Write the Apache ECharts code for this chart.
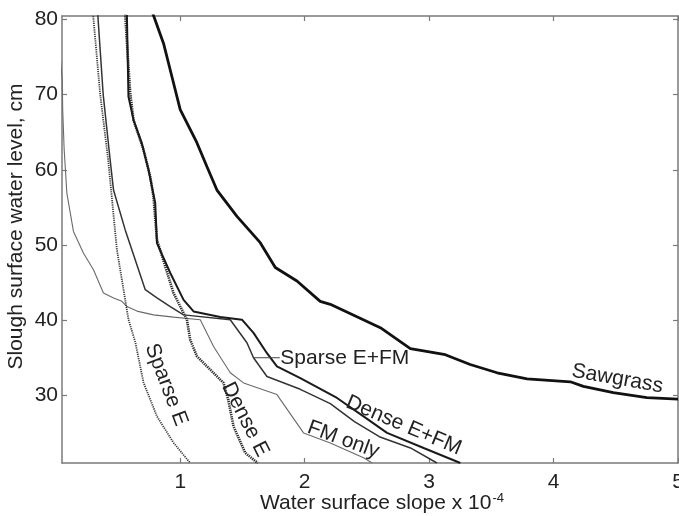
<!DOCTYPE html>
<html>
<head>
<meta charset="utf-8">
<title>Slough water level vs slope</title>
<script src="https://cdn.jsdelivr.net/npm/echarts@6/dist/echarts.min.js"></script>
<style>
    html, body { margin: 0; padding: 0; background: #fff; }
    #chart { width: 679px; height: 516px; }
</style>
</head>
<body>
<div id="chart"></div>
<script>
// tick labels
var xTicks = [1, 2, 3, 4, 5];
var yTicks = [30, 40, 50, 60, 70, 80];

// curves, [slope x 1e-4, water level cm]
var sawgrass = [[0.775, 81], [0.866, 76.8], [0.933, 72.4], [1.0, 68.0], [1.134, 63.6], [1.215, 60.4],
    [1.295, 57.3], [1.456, 53.8], [1.643, 50.3], [1.764, 47.0], [1.938, 45.2], [2.125, 42.5], [2.206, 42.1],
    [2.608, 39.0], [2.849, 36.2], [3.13, 35.4], [3.33, 34.1], [3.546, 33.0], [3.787, 32.2],
    [4.135, 31.8], [4.24, 31.2], [4.48, 30.35], [4.75, 29.7], [5.0, 29.5]];
var sparseE = [[0.295, 81], [0.301, 80.4], [0.357, 70], [0.421, 61.3], [0.491, 49.4], [0.584, 40.1],
    [0.64, 37.0], [0.705, 31.7], [0.813, 27.2], [0.946, 23.7], [1.08, 21.0]];
var sparseEFM = [[0.336, 81], [0.381, 70], [0.437, 61.3], [0.464, 57.3], [0.558, 52.0], [0.719, 44.05],
    [0.813, 42.95], [0.92, 41.8], [1.027, 40.7], [1.402, 40.05], [1.536, 37.0], [1.589, 35.0],
    [1.697, 32.5], [1.965, 30.8], [2.206, 28.9], [2.4, 26.5], [2.6, 24.5], [2.85, 23.0], [3.063, 21.0]];
var denseE = [[0.556, 81], [0.559, 80.4], [0.572, 76.8], [0.598, 70.2], [0.625, 66.6], [0.705, 62.65],
    [0.759, 59.1], [0.785, 56.45], [0.813, 50.7], [0.946, 43.6], [1.054, 40.06], [1.08, 37.4],
    [1.134, 35.2], [1.215, 33.85], [1.348, 31.65], [1.386, 29.4], [1.428, 25.9], [1.522, 22.35], [1.623, 21.0]];
var denseEFM = [[0.571, 81], [0.584, 69.74], [0.625, 66.6], [0.692, 63.5], [0.745, 60.0], [0.799, 55.57],
    [0.813, 50.25], [0.92, 46.27], [1.027, 42.7], [1.107, 41.16], [1.322, 40.42], [1.496, 40.06],
    [1.589, 38.3], [1.697, 35.6], [1.777, 33.85], [1.965, 32.3], [2.26, 29.65], [2.473, 27.2],
    [2.662, 25.0], [2.956, 23.0], [3.251, 21.0]];
var fmOnly = [[0.03, 76], [0.052, 72], [0.0555, 68.0], [0.0675, 62.65], [0.089, 56.9], [0.142, 51.8],
    [0.223, 48.9], [0.303, 46.7], [0.383, 43.6], [0.464, 42.95], [0.531, 42.5], [0.572, 41.8],
    [0.652, 41.2], [0.785, 40.7], [0.946, 40.4], [1.161, 40.06], [1.268, 36.5], [1.402, 33.0],
    [1.509, 31.65], [1.777, 30.1], [1.991, 25.0], [2.206, 23.67], [2.473, 21.7], [2.543, 21.0]];

var FONT = '"Liberation Sans", Arial, sans-serif';
var axisColor = '#7a7a7a';
var textColor = '#222';

var chart = echarts.init(document.getElementById('chart'));

function frameAxis(pos, isX) {
    var ax = {
        type: 'value',
        position: pos,
        min: isX ? 0.05 : 21,
        max: isX ? 5 : 80.45,
        axisLine: { show: true, onZero: false, lineStyle: { color: axisColor, width: 1.5 } },
        axisTick: { show: true, inside: true, length: 5, customValues: isX ? xTicks : yTicks,
            lineStyle: { color: axisColor, width: 1.2 } },
        axisLabel: { show: false },
        splitLine: { show: false }
    };
    return ax;
}

var xMain = frameAxis('bottom', true);
xMain.axisLabel = { show: true, customValues: xTicks, margin: 9, color: textColor,
    fontFamily: FONT, fontSize: 21 };
xMain.name = '{a|Water surface slope x 10}{b|-4}';
xMain.nameLocation = 'middle';
xMain.nameGap = 29;
xMain.nameMoveOverlap = false;
xMain.nameTextStyle = {
    padding: [0, 0, 0, 24],
    rich: {
        a: { fontFamily: FONT, fontSize: 21, lineHeight: 22, color: textColor },
        b: { fontFamily: FONT, fontSize: 13, lineHeight: 22, color: textColor, verticalAlign: 'top', padding: [0, 0, 0, 1] }
    }
};

var yMain = frameAxis('left', false);
yMain.axisLabel = { show: true, customValues: yTicks, margin: 4, color: textColor,
    fontFamily: FONT, fontSize: 21 };
yMain.name = 'Slough surface water level, cm';
yMain.nameLocation = 'middle';
yMain.nameGap = 35;
yMain.nameMoveOverlap = false;
yMain.nameTextStyle = { fontFamily: FONT, fontSize: 21, color: textColor, padding: [0, 0, 0, 26] };

function curve(name, data, color, width, type) {
    return {
        name: name,
        type: 'line',
        data: data,
        showSymbol: false,
        symbol: 'none',
        clip: true,
        xAxisIndex: 0,
        yAxisIndex: 0,
        lineStyle: { color: color, width: width, type: type, cap: 'butt' },
        z: 3
    };
}

var option = {
    backgroundColor: '#fff',
    animation: false,
    grid: { left: 62, right: 1, top: 16, bottom: 53, outerBoundsMode: 'none', containLabel: false },
    xAxis: [xMain, frameAxis('top', true)],
    yAxis: [yMain, frameAxis('right', false)],
    series: [
        curve('FM only', fmOnly, '#6a6a6a', 1.1, 'solid'),
        curve('Sparse E', sparseE, '#3a3a3a', 1.8, [1.2, 1.0]),
        curve('Dense E', denseE, '#2a2a2a', 2.6, [1.3, 0.9]),
        curve('Sparse E+FM', sparseEFM, '#333', 1.5, 'solid'),
        curve('Dense E+FM', denseEFM, '#1a1a1a', 2.0, 'solid'),
        curve('Sawgrass', sawgrass, '#111', 2.8, 'solid')
    ]
};
chart.setOption(option);

// curve labels, anchored in data coordinates
var curveLabels = [
    { text: 'Sawgrass', at: [4.513, 32.2], rotate: -10, align: 'center' },
    { text: 'Sparse E', at: [0.887, 31.4], rotate: -69, align: 'center' },
    { text: 'Dense E', at: [1.523, 26.8], rotate: -63, align: 'center' },
    { text: 'Sparse E+FM', at: [1.804, 35.0], rotate: 0, align: 'left' },
    { text: 'Dense E+FM', at: [2.795, 26.0], rotate: -23, align: 'center' },
    { text: 'FM only', at: [2.31, 24.1], rotate: -20, align: 'center' }
];

var graphics = curveLabels.map(function (l) {
    var p = chart.convertToPixel({ gridIndex: 0 }, l.at);
    return {
        type: 'text',
        x: p[0],
        y: p[1],
        rotation: l.rotate * Math.PI / 180,
        z: 10,
        style: {
            text: l.text,
            fontFamily: FONT,
            fontSize: 21,
            fill: textColor,
            align: l.align,
            verticalAlign: 'middle'
        }
    };
});

// leader line for Sparse E+FM
var a = chart.convertToPixel({ gridIndex: 0 }, [1.587, 35.0]);
var b = chart.convertToPixel({ gridIndex: 0 }, [1.80, 35.0]);
graphics.push({
    type: 'line',
    z: 9,
    shape: { x1: a[0], y1: a[1], x2: b[0], y2: b[1] },
    style: { stroke: '#444', lineWidth: 1 }
});

chart.setOption({ graphic: graphics });
</script>
</body>
</html>
